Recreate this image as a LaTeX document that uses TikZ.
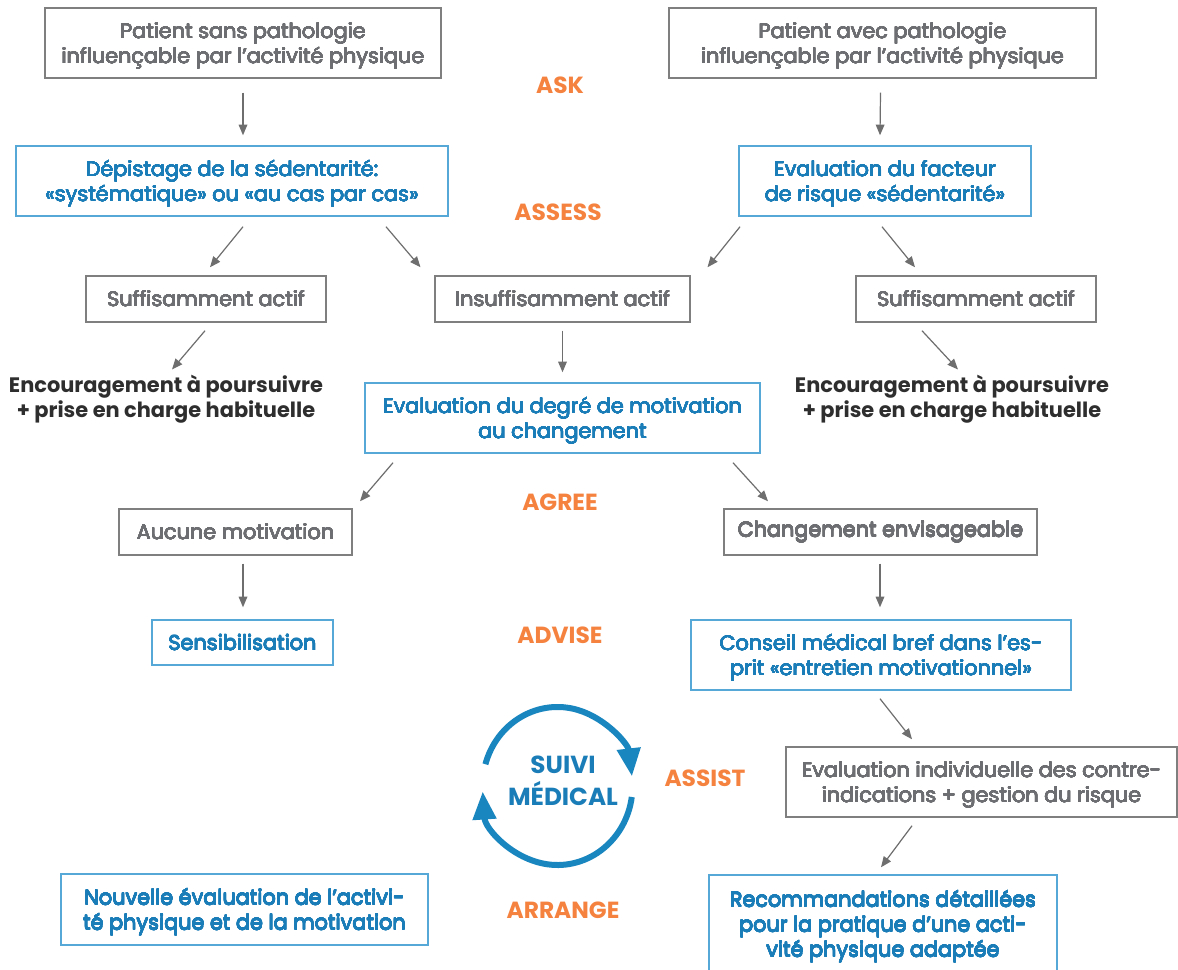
\documentclass[tikz,border=0pt]{standalone}
\usepackage{fontspec}
\setmainfont{Poppins}
\usepackage[copies]{contour}
\contourlength{0.17pt}
\contournumber{16}
\usetikzlibrary{arrows.meta,calc}
\definecolor{gtext}{HTML}{6D6E71}
\definecolor{gline}{HTML}{7F7F7F}
\definecolor{btext}{HTML}{1A7DB7}
\definecolor{bline}{HTML}{56A9D6}
\definecolor{orng}{HTML}{F5823E}
\definecolor{dtext}{HTML}{2E2E2E}
\definecolor{circ}{HTML}{1A86C0}
\definecolor{agray}{HTML}{6E6E6E}
\newcommand\ml[1]{\raisebox{-2.2pt}[\height][\depth]{\begin{tabular}{@{}c@{}}#1\end{tabular}}}
\newcommand\ct[1]{\contour{.}{#1}}
\tikzset{
  txt/.style={font=\fontsize{15.6}{18.75}\selectfont, align=center, inner sep=0pt},
  gbox/.style={txt, draw=gline, line width=1.1pt, text=gtext},
  bbox/.style={txt, draw=bline, line width=1.1pt, text=btext},
  dark/.style={txt, font=\bfseries\fontsize{15.7}{18.75}\selectfont, text=dtext},
  lab/.style={font=\bfseries\fontsize{17.5}{20}\selectfont, text=orng, inner sep=0pt},
  arr/.style={draw=agray, line width=0.9pt, -{Triangle[length=8pt,width=6.5pt]}},
  cyc/.style={draw=circ, line width=4.5pt, -{Triangle[length=21pt,width=17pt]}},
}
\begin{document}
\begin{tikzpicture}[x=0.75pt,y=-0.75pt]
\clip (0,0) rectangle (1178,970);
\fill[white] (0,0) rectangle (1178,970);
% boxes
\node[gbox, minimum width=297pt, minimum height=52.5pt] (A) at (243,43) {\ml{\ct{Patient sans pathologie}\\\ct{influençable par l’activité physique}}};
\node[gbox, minimum width=320.25pt, minimum height=52.5pt] (B) at (882.5,43) {\ml{\ct{Patient avec pathologie}\\\ct{influençable par l’activité physique}}};
\node[bbox, minimum width=324pt, minimum height=52.5pt] (C) at (232,181) {\ml{\ct{Dépistage de la sédentarité:}\\\ct{«systématique» ou «au cas par cas»}}};
\node[bbox, minimum width=219pt, minimum height=52.5pt] (D) at (885,181) {\ml{\ct{Evaluation du facteur}\\\ct{de risque «sédentarité»}}};
\node[gbox, minimum width=180pt, minimum height=34.5pt] (E) at (206,299) {\ct{Suffisamment actif}};
\node[gbox, minimum width=191.25pt, minimum height=34.5pt] (F) at (562.5,299) {\ct{Insuffisamment actif}};
\node[gbox, minimum width=180pt, minimum height=34.5pt] (G) at (976,299) {\ct{Suffisamment actif}};
\node[dark] (H) at (166,397.5) {\ml{Encouragement à poursuivre\\+ prise en charge habituelle}};
\node[bbox, minimum width=296.25pt, minimum height=52.5pt] (I) at (562.5,418) {\ml{\ct{Evaluation du degré de motivation}\\\ct{au changement}}};
\node[dark] (J) at (952,397.5) {\ml{Encouragement à poursuivre\\+ prise en charge habituelle}};
\node[gbox, minimum width=174.75pt, minimum height=34.5pt] (K) at (235.5,532) {\ct{Aucune motivation}};
\node[gbox, minimum width=234.75pt, minimum height=34.5pt] (L) at (880.5,532) {\ct{Changement envisageable}};
\node[bbox, minimum width=135.75pt, minimum height=33.75pt] (M) at (242.5,642.5) {\ct{Sensibilisation}};
\node[bbox, minimum width=285pt, minimum height=52.5pt] (N) at (881,655) {\ml{\ct{Conseil médical bref dans l’es-}\\\ct{prit «entretien motivationnel»}}};
\node[gbox, minimum width=293.25pt, minimum height=52.5pt] (O) at (981.5,782) {\ml{\ct{Evaluation individuelle des contre-}\\\ct{indications + gestion du risque}}};
\node[bbox, minimum width=261pt, minimum height=73.5pt] (P) at (883,924) {\ml{\ct{Recommandations détaillées}\\\ct{pour la pratique d’une acti-}\\\ct{vité physique adaptée}}};
\node[bbox, minimum width=275.25pt, minimum height=53.25pt] (Q) at (244.5,909.5) {\ml{\ct{Nouvelle évaluation de l’activi-}\\\ct{té physique et de la motivation}}};
% labels
\node[lab] (l1) at (560,85) {ASK};
\node[lab] (l2) at (558,212) {ASSESS};
\node[lab] (l3) at (560,502) {AGREE};
\node[lab] (l4) at (560,635) {ADVISE};
\node[lab] (l5) at (705,778) {ASSIST};
\node[lab] (l6) at (563,910) {ARRANGE};
% connectors
\draw[arr] ($(A.south)+(0,14)$) -- ($(C.north)+(11,-10)$);
\draw[arr] ($(B.south)+(-2,14)$) -- ($(D.north)+(-5,-10)$);
\draw[arr] ($(C.south)+(11,10)$) -- ($(E.north)+(4,-8)$);
\draw[arr] ($(C.south)+(154,10)$) -- ($(F.north)+(-142,-8)$);
\draw[arr] ($(D.south)+(-145,10)$) -- ($(F.north)+(145,-8)$);
\draw[arr] ($(D.south)+(-3,10)$) -- ($(G.north)+(-61,-8)$);
\draw[arr] ($(E.south)+(-1,8)$) -- ($(H.center)+(6,-28)$);
\draw[arr] ($(F.south)+(0,8)$) -- ($(I.north)+(0,-10)$);
\draw[arr] ($(G.south)+(-54,8)$) -- ($(J.center)+(6,-28)$);
\draw[arr] ($(I.south)+(-169.5,9)$) -- ($(K.north)+(124.5,-7)$);
\draw[arr] ($(I.south)+(170.5,9)$) -- ($(L.north)+(-112.5,-7)$);
\draw[arr] ($(K.south)+(7.5,8)$) -- ($(M.north)+(0.5,-12)$);
\draw[arr] ($(L.south)+(-0.5,8)$) -- ($(N.north)+(-1,-12)$);
\draw[arr] ($(N.south)+(-1,8)$) -- ($(O.north)+(-69.5,-7)$);
\draw[arr] ($(O.south)+(-69.5,8)$) -- ($(P.north)+(-2,-7)$);
% cycle
\coordinate (cc) at (557.5,786);
\draw[cyc] ($(cc)+({75*cos(-164)},{79*sin(-164)})$) arc[start angle=-164, end angle=-7, x radius=75, y radius=79];
\draw[cyc] ($(cc)+({75*cos(8)},{79*sin(8)})$) arc[start angle=8, end angle=176, x radius=75, y radius=79];
\node[txt, font=\bfseries\fontsize{18.5}{20.5}\selectfont, text=btext] (S) at (563,781) {\ml{SUIVI\\MÉDICAL}};
\end{tikzpicture}
\end{document}
